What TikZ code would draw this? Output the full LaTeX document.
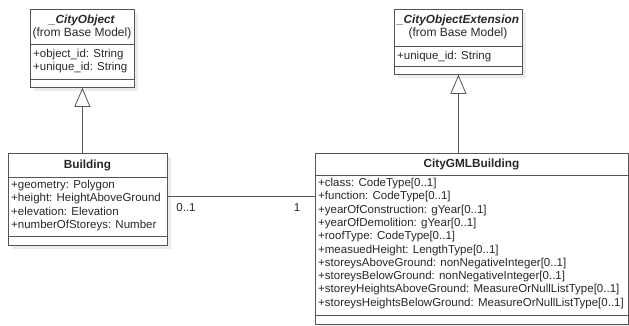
\documentclass[tikz,border=0pt]{standalone}
\usepackage{fontspec}
\setmainfont{Liberation Sans}
\usetikzlibrary{arrows.meta,shadows}
\definecolor{umlline}{RGB}{85,85,85}
\definecolor{umltext}{RGB}{40,40,40}
\definecolor{umlshadow}{RGB}{236,236,236}
\begin{document}
\begin{tikzpicture}[x=1pt,y=-1pt,
  classbox/.style={draw=umlline, fill=white, line width=0.8pt, inner sep=0pt, anchor=north west,
    drop shadow={shadow xshift=4pt, shadow yshift=-4pt, fill=umlshadow, opacity=1}},
  sepline/.style={draw=umlline, line width=0.8pt},
  title/.style={inner sep=0pt, text=umltext, font=\fontsize{11.8}{13}\selectfont\bfseries},
  subtitle/.style={inner sep=0pt, text=umltext, font=\fontsize{12}{13}\selectfont},
  attr/.style={inner sep=0pt, anchor=north west, align=left, text=umltext, font=\fontsize{11.5}{13.3}\selectfont},
  mult/.style={inner sep=0pt, text=umltext, font=\fontsize{11.5}{13.3}\selectfont},
  gen/.style={draw=umlline, line width=0.8pt, -{Triangle[open, length=19pt, width=16pt, line width=0.8pt]}},
  assoc/.style={draw=umlline, line width=0.8pt}]
\useasboundingbox (0,0) rectangle (629,325);

% _CityObject
\node[classbox, minimum width=104pt, minimum height=78pt] (co) at (30,9) {};
\draw[sepline] (30,44) -- (134,44);
\draw[sepline] (30,79) -- (134,79);
\node[title] (co-t) at (82,20) {\textit{\_CityObject}};
\node[subtitle] (co-s) at (82,33) {(from Base Model)};
\node[attr] (co-a) at (33,49) {+object\_id: String\\+unique\_id: String};

% _CityObjectExtension
\node[classbox, minimum width=128pt, minimum height=65pt] (ext) at (394,9) {};
\draw[sepline] (394,46) -- (522,46);
\draw[sepline] (394,66) -- (522,66);
\node[title] (ext-t) at (458,20) {\textit{\_CityObjectExtension}};
\node[subtitle] (ext-s) at (458,33) {(from Base Model)};
\node[attr] (ext-a) at (397,51) {+unique\_id: String};

% Building
\node[classbox, minimum width=159pt, minimum height=92pt] (b) at (8,153) {};
\draw[sepline] (8,177) -- (167,177);
\draw[sepline] (8,236) -- (167,236);
\node[title] (b-t) at (87.5,165) {Building};
\node[attr] (b-a) at (11,180) {+geometry: Polygon\\+height: HeightAboveGround\\+elevation: Elevation\\+numberOfStoreys: Number};

% CityGMLBuilding
\node[classbox, minimum width=313pt, minimum height=171pt] (cg) at (315,153) {};
\draw[sepline] (315,175) -- (628,175);
\draw[sepline] (315,315) -- (628,315);
\node[title] (cg-t) at (471.5,164) {CityGMLBuilding};
\node[attr] (cg-a) at (318,178) {+class: CodeType[0..1]\\+function: CodeType[0..1]\\+yearOfConstruction: gYear[0..1]\\+yearOfDemolition: gYear[0..1]\\+roofType: CodeType[0..1]\\+measuedHeight: LengthType[0..1]\\+storeysAboveGround: nonNegativeInteger[0..1]\\+storeysBelowGround: nonNegativeInteger[0..1]\\+storeyHeightsAboveGround: MeasureOrNullListType[0..1]\\+storeysHeightsBelowGround: MeasureOrNullListType[0..1]};

% connectors
\draw[gen] (b.north -| co.south) -- (co.south);
\draw[gen] (cg.north -| ext.south) -- (ext.south);
\coordinate (bl) at ([yshift=3pt]b.east);
\draw[assoc] (bl) -- (bl -| cg.west);
\node[mult] (m1) at (186,208) {0..1};
\node[mult] (m2) at (297,208) {1};
\end{tikzpicture}
\end{document}
